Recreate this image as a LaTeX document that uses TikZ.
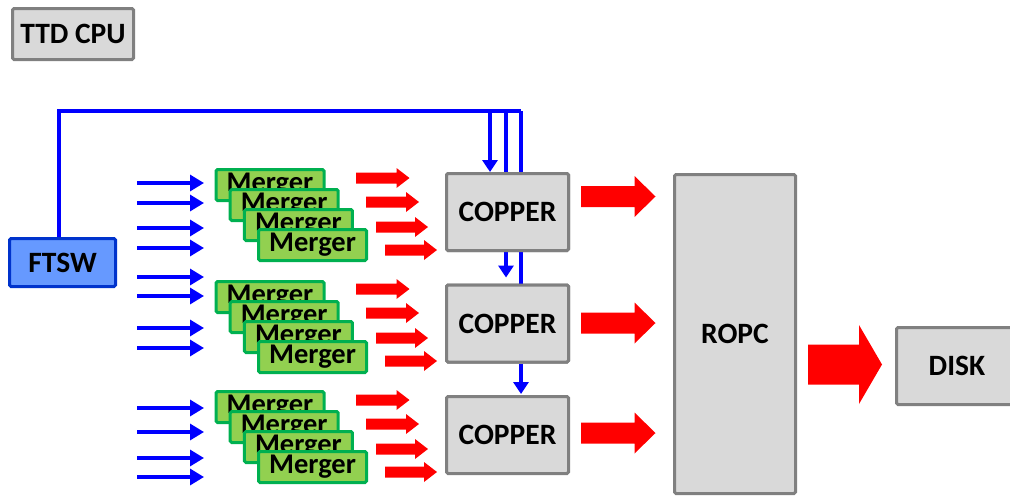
\documentclass[tikz,border=0pt]{standalone}
\usepackage{fontspec}
\setmainfont{Carlito}
\usetikzlibrary{arrows.meta,calc}
\definecolor{boxgray}{HTML}{D9D9D9}
\definecolor{edgegray}{HTML}{808080}
\definecolor{ftswfill}{HTML}{6699FF}
\definecolor{ftswedge}{HTML}{0033CC}
\definecolor{mfill}{HTML}{92D050}
\definecolor{medge}{HTML}{00B050}
\definecolor{arrred}{HTML}{FF0000}
\definecolor{arrblue}{HTML}{0000FF}
% #1 start x, #2 tip x, #3 y, #4 shaft half height, #5 head half height, #6 head length
\newcommand\fatarrow[6]{%
  \fill[arrred] (#1,#3-#4) -- (#2-#6,#3-#4) -- (#2-#6,#3-#5) -- (#2,#3)
     -- (#2-#6,#3+#5) -- (#2-#6,#3+#4) -- (#1,#3+#4) -- cycle;}
\begin{document}
\begin{tikzpicture}[x=1pt,y=-1pt,
  lbl/.style={font=\fontsize{29.5}{32}\selectfont\bfseries, inner sep=0pt, align=center},
  graybox/.style={lbl, draw=edgegray, fill=boxgray, line width=3pt, rounded corners=1.5pt},
  ftswbox/.style={lbl, draw=ftswedge, fill=ftswfill, line width=3pt, rounded corners=1.5pt},
  mergerbox/.style={lbl, font=\fontsize{28.5}{30}\selectfont\bfseries, draw=medge, fill=mfill,
     line width=3pt, rounded corners=1.5pt, minimum width=108pt, minimum height=31pt},
  bline/.style={draw=arrblue, line width=3.2pt},
  barrow/.style={bline, -{Triangle[length=14pt,width=16pt]}},
  varrow/.style={bline, -{Triangle[length=12pt,width=15pt]}}]
\useasboundingbox (0,0) rectangle (1010,496);
\clip (0,0) rectangle (1010,496);
\fill[white] (0,0) rectangle (1010,496);

% blue trigger lines
\coordinate (corner) at (59,111);
\coordinate (tA) at (490,111);
\coordinate (tB) at (506,111);
\coordinate (tC) at (521,111);

\node[graybox, minimum width=121pt, minimum height=51pt] (ttd) at (73,34) {TTD CPU};
\node[ftswbox, minimum width=106pt, minimum height=48pt] (ftsw) at (62.5,262.5) {FTSW};
\node[graybox, minimum width=122pt, minimum height=77pt] (c1) at (507.5,212) {COPPER};
\node[graybox, minimum width=122pt, minimum height=77pt] (c2) at (507.5,323.5) {COPPER};
\node[graybox, minimum width=122pt, minimum height=77pt] (c3) at (507.5,435) {COPPER};
\node[graybox, minimum width=121pt, minimum height=319pt] (ropc) at (735,334) {ROPC};
\node[graybox, minimum width=121pt, minimum height=77pt] (disk) at (957,366) {DISK};

\draw[bline] (ftsw.north -| corner) -- (corner) -- (tC);
\draw[varrow] (tA) -- (c1.north -| tA);
\draw[bline] (tB) -- (c1.north -| tB);
\draw[bline] (tC) -- (c1.north -| tC);
\draw[varrow] (c1.south -| tB) -- ($(c2.north -| tB)+(0,-6)$);
\draw[bline] (c1.south -| tC) -- (c2.north -| tC);
\draw[varrow] (c2.south -| tC) -- ($(c3.north -| tC)+(0,-1)$);

% redraw copper boxes over the through-going lines
\node[graybox, minimum width=122pt, minimum height=77pt] at (c1) {COPPER};
\node[graybox, minimum width=122pt, minimum height=77pt] at (c2) {COPPER};

% merger groups
\foreach \g/\my/\ry/\ya/\yb/\yc/\yd in {1/0/0/183/203/228/248, 2/112/111/277/296/328/348, 3/222/222/408/432/458/477}{
  \foreach \k in {0,1,2,3}{
    \node[mergerbox] (m\g\k) at (270+14.2*\k, 185+\my+20*\k) {Merger};
  }
  \foreach \y in {\ya,\yb,\yc,\yd}{
    \coordinate (bs) at (137,\y);
    \coordinate (be) at (204,\y);
    \draw[barrow] (bs) -- (be);
  }
  \fatarrow{356}{409.5}{178+\ry}{5.5}{10}{13}
  \fatarrow{366}{419}{202+\ry}{5.5}{10}{13}
  \fatarrow{376}{428}{227+\ry}{5.5}{10}{13}
  \fatarrow{385}{437}{250+\ry}{5.5}{10}{13}
}

% big red arrows
\fatarrow{581}{655.5}{196.5}{10.5}{20.5}{21}
\fatarrow{581}{655.5}{323}{10.5}{20.5}{21}
\fatarrow{581}{655.5}{433}{10.5}{20.5}{21}
\fatarrow{808}{882}{364.5}{20}{39.5}{23}
\end{tikzpicture}
\end{document}
